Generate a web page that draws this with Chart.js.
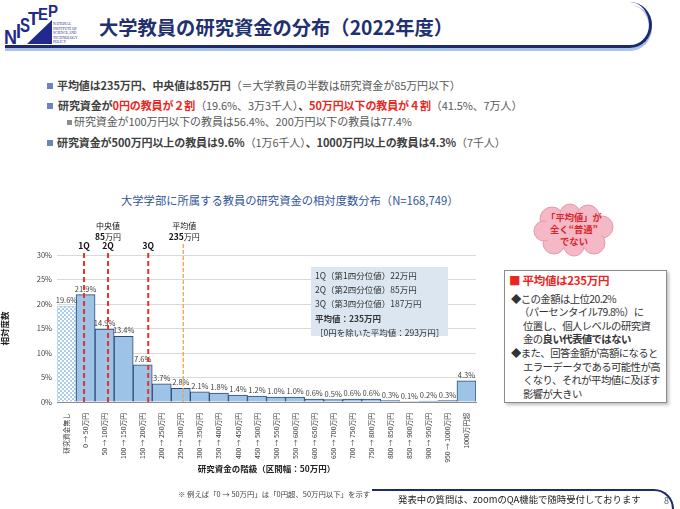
<!DOCTYPE html>
<html lang="ja">
<head>
    <meta charset="UTF-8">
    <title>大学教員の研究資金の分布（2022年度）</title>
    <script src="https://cdn.jsdelivr.net/npm/chart.js"></script>
    <style>
        html, body {
            margin: 0;
            padding: 0;
        }
        body {
            width: 680px;
            height: 509px;
            position: relative;
            overflow: hidden;
            background: #ffffff;
            font-family: "Noto Sans CJK JP", "Noto Sans", sans-serif;
            color: #595959;
        }
        .abs { position: absolute; white-space: nowrap; }
        .header-line, .header-shadow {
            position: absolute;
            left: 5px; top: 2px;
            width: 644px; height: 43px;
            border-bottom: 3px solid #1f2a6e;
            border-right: 3px solid #1f2a6e;
            border-radius: 0 22px 22px 0 / 0 23px 23px 0;
        }
        .header-shadow {
            top: 5px;
            left: 5px;
            border-color: #a9c3ea;
        }
        .title {
            left: 99px; top: 13px;
            font-size: 19.3px;
            font-weight: bold;
            color: #22306f;
        }
        .pt {
            font-size: 11px;
            letter-spacing: -0.1px;
        }
        .pt b { color: #404040; }
        .pt .red { color: #e8281e; font-weight: bold; }
        .sq {
            position: absolute;
            width: 6px; height: 6px;
            background: #6a86b8;
        }
        #chartWrap {
            position: absolute;
            left: 0; top: 190px;
            width: 490px; height: 300px;
        }
        .ctitle {
            left: 121px; top: 192px;
            font-size: 11.3px;
            color: #2f5597;
        }
        .qbox {
            position: absolute;
            left: 311px; top: 267px;
            width: 133px; height: 68px;
            background: #dce6f0;
            font-size: 8.5px;
            color: #333333;
            line-height: 14.2px;
            padding: 1px 0 0 4px;
            white-space: nowrap;
        }
        .note {
            left: 178px; top: 488px;
            font-size: 7.4px;
            color: #404040;
        }
        .panel {
            position: absolute;
            left: 504px; top: 270px;
            width: 161px; height: 131px;
            border: 1px solid #8c8c8c;
            box-shadow: 2px 2px 3px rgba(0,0,0,0.25);
            background: #ffffff;
            font-size: 10.4px;
            line-height: 13.6px;
            color: #333333;
            white-space: nowrap;
            letter-spacing: -0.6px;
        }
        .panel .head {
            color: #e8281e;
            font-weight: bold;
            font-size: 11.5px;
            letter-spacing: -0.3px;
            margin: 3px 0 4px 4px;
        }
        .footer-line {
            position: absolute;
            left: 372px; top: 489px;
            width: 300px; height: 40px;
            border-top: 2px solid #1f2a6e;
            border-right: 2px solid #1f2a6e;
            border-radius: 0 20px 0 0;
        }
    </style>
</head>
<body>
    <!-- header -->
    <svg class="abs" style="left:0;top:0" width="90" height="48" viewBox="0 0 90 48">
        <polygon points="27,44 52,44 52,20" fill="#1f2a8c"/>
        <g font-family="Liberation Sans" font-weight="bold" fill="#1f2a8c">
            <text x="4" y="44" font-size="21" textLength="13" lengthAdjust="spacingAndGlyphs">N</text>
            <text x="16" y="38" font-size="20" textLength="5" lengthAdjust="spacingAndGlyphs">I</text>
            <text x="20" y="32" font-size="20" textLength="10" lengthAdjust="spacingAndGlyphs">S</text>
            <text x="28" y="25" font-size="19" textLength="11" lengthAdjust="spacingAndGlyphs">T</text>
            <text x="38" y="20" font-size="17" textLength="10" lengthAdjust="spacingAndGlyphs">E</text>
            <text x="48" y="17" font-size="16" textLength="10" lengthAdjust="spacingAndGlyphs">P</text>
        </g>
        <g font-family="Liberation Serif" font-size="3.6" fill="#1f2a8c">
            <text x="53" y="25">NATIONAL</text>
            <text x="53" y="29.5">INSTITUTE OF</text>
            <text x="53" y="34">SCIENCE AND</text>
            <text x="53" y="38.5">TECHNOLOGY</text>
            <text x="53" y="43">POLICY</text>
        </g>
    </svg>
    <div class="header-shadow"></div>
    <div class="header-line"></div>
    <div class="abs title">大学教員の研究資金の分布（2022年度）</div>

    <!-- bullet points -->
    <div class="sq" style="left:47px;top:83px"></div>
    <div class="abs pt" style="left:57px;top:77px"><b>平均値は235万円、中央値は85万円</b>（＝大学教員の半数は研究資金が85万円以下）</div>
    <div class="sq" style="left:47px;top:103px"></div>
    <div class="abs pt" style="left:58px;top:97px"><b>研究資金が</b><span class="red">0円の教員が２割</span>（19.6%、3万3千人）<b>、</b><span class="red">50万円以下の教員が４割</span>（41.5%、7万人）</div>
    <div class="sq" style="left:67px;top:120px;width:5px;height:5px;background:#8c8c8c"></div>
    <div class="abs pt" style="left:74px;top:113px">研究資金が100万円以下の教員は56.4%、200万円以下の教員は77.4%</div>
    <div class="sq" style="left:47px;top:140px"></div>
    <div class="abs pt" style="left:57px;top:134px"><b>研究資金が500万円以上の教員は9.6%</b>（1万6千人）<b>、1000万円以上の教員は4.3%</b>（7千人）</div>

    <!-- chart -->
    <div class="abs ctitle">大学学部に所属する教員の研究資金の相対度数分布（N=168,749）</div>
    <div id="chartWrap"><canvas id="fundChart"></canvas></div>
    <div class="qbox">
        1Q（第1四分位値）22万円<br>
        2Q（第2四分位値）85万円<br>
        3Q（第3四分位値）187万円<br>
        <b>平均値：235万円</b><br>
        ［0円を除いた平均値：293万円］
    </div>
    <div class="abs note">※ 例えば「0 → 50万円」は「0円超、50万円以下」を示す</div>

    <!-- right side -->
    <svg class="abs" style="left:532px;top:203px" width="84" height="54" viewBox="0 0 84 54">
        <g fill="#f5b8c6" stroke="#e79aac" stroke-width="1">
            <circle cx="20" cy="16" r="12"/>
            <circle cx="38" cy="11" r="10"/>
            <circle cx="56" cy="13" r="11"/>
            <circle cx="70" cy="24" r="11"/>
            <circle cx="62" cy="40" r="11"/>
            <circle cx="42" cy="43" r="10"/>
            <circle cx="22" cy="40" r="11"/>
            <circle cx="12" cy="28" r="10"/>
        </g>
        <ellipse cx="41" cy="27" rx="30" ry="18" fill="#f5b8c6"/>
        <g font-family="Noto Sans CJK JP" font-weight="bold" font-size="9.3" fill="#d8262b" text-anchor="middle">
            <text x="42" y="18">「平均値」が</text>
            <text x="42" y="30">全く“普通”</text>
            <text x="42" y="42">でない</text>
        </g>
    </svg>
    <div class="panel">
        <div class="head">■ 平均値は235万円</div>
        <div style="padding-left:6px">◆この金額は上位20.2%</div>
        <div style="padding-left:14px">（パーセンタイル79.8%）に</div>
        <div style="padding-left:18px">位置し、個人レベルの研究資</div>
        <div style="padding-left:18px">金の<b>良い代表値ではない</b></div>
        <div style="padding-left:6px">◆また、回答金額が高額になると</div>
        <div style="padding-left:18px">エラーデータである可能性が高</div>
        <div style="padding-left:18px">くなり、それが平均値に及ぼす</div>
        <div style="padding-left:18px">影響が大きい</div>
    </div>

    <!-- footer -->
    <div class="footer-line"></div>
    <div class="abs" style="left:398px;top:492px;font-size:9.4px;color:#222">発表中の質問は、zoomのQA機能で随時受付しております</div>
    <div class="abs" style="left:664px;top:494px;font-size:9px;color:#595959">8</div>

    <script>
        // data
        const categories = ['研究資金無し', '0 → 50万円', '50 → 100万円', '100 → 150万円', '150 → 200万円',
            '200 → 250万円', '250 → 300万円', '300 → 350万円', '350 → 400万円', '400 → 450万円',
            '450 → 500万円', '500 → 550万円', '550 → 600万円', '600 → 650万円', '650 → 700万円',
            '700 → 750万円', '750 → 800万円', '800 → 850万円', '850 → 900万円', '900 → 950万円',
            '950 → 1000万円', '1000万円超'];
        const shares = [19.6, 21.9, 14.9, 13.4, 7.6, 3.7, 2.8, 2.1, 1.8, 1.4, 1.2,
            1.0, 1.0, 0.6, 0.5, 0.6, 0.6, 0.3, 0.1, 0.2, 0.3, 4.3];
        const yTicks = [0, 5, 10, 15, 20, 25, 30];
        // reference lines: name, amount (万円) and where they sit on the category axis as drawn
        const markerNames = ['1Q', '2Q', '3Q', '平均値'];
        const markerAmounts = [22, 85, 187, 235];
        const markerAxisPos = [0.92, 2.18, 4.29, 6.13];

        const canvas = document.getElementById('fundChart');
        const ctx = canvas.getContext('2d');

        // dotted fill for the "no funding" bar
        const tile = document.createElement('canvas');
        tile.width = 4;
        tile.height = 4;
        const t = tile.getContext('2d');
        t.fillStyle = '#ffffff';
        t.fillRect(0, 0, 4, 4);
        t.fillStyle = '#a9cdea';
        t.fillRect(0, 0, 2, 2);
        t.fillRect(2, 2, 2, 2);
        const dots = ctx.createPattern(tile, 'repeat');

        const fills = shares.map((v, i) => i === 0 ? dots : '#9dc3e6');
        const borders = shares.map((v, i) => i === 0 ? '#b4d2ec' : '#2e4a78');

        const annotations = {
            id: 'annotations',
            afterDatasetsDraw(chart) {
                const c = chart.ctx;
                const x = chart.scales.x;
                const y = chart.scales.y;
                const meta = chart.getDatasetMeta(0);

                // value labels
                c.save();
                c.font = '7.5px "Noto Sans CJK JP"';
                c.fillStyle = '#404040';
                c.textAlign = 'center';
                c.textBaseline = 'bottom';
                meta.data.forEach((bar, i) => {
                    c.fillText(shares[i].toFixed(1) + '%', bar.x, bar.y - 2);
                });

                // quartile / mean lines
                markerAxisPos.forEach((pos, i) => {
                    const px = x.getPixelForValue(pos);
                    const isMean = markerNames[i] === '平均値';
                    c.beginPath();
                    c.setLineDash(isMean ? [4, 2] : [5, 3]);
                    c.lineWidth = isMean ? 1.3 : 2;
                    c.strokeStyle = isMean ? '#f2a154' : '#e2342b';
                    c.moveTo(px, isMean ? y.top - 11 : y.top - 2);
                    c.lineTo(px, y.bottom);
                    c.stroke();
                });
                c.setLineDash([]);

                c.fillStyle = '#111111';
                c.textBaseline = 'middle';
                markerAxisPos.forEach((pos, i) => {
                    const px = x.getPixelForValue(pos);
                    if (markerNames[i] !== '平均値') {
                        c.font = 'bold 8.5px "Noto Sans CJK JP"';
                        c.fillText(markerNames[i], px, y.top - 9);
                    }
                });

                // median and mean captions
                const caption = (px, head, amount) => {
                    c.font = '8px "Noto Sans CJK JP"';
                    c.fillText(head, px, y.top - 29);
                    const num = String(amount);
                    c.font = 'bold 8.5px "Noto Sans CJK JP"';
                    const w1 = c.measureText(num).width;
                    c.font = '8px "Noto Sans CJK JP"';
                    const w2 = c.measureText('万円').width;
                    const start = px - (w1 + w2) / 2;
                    c.textAlign = 'left';
                    c.font = 'bold 8.5px "Noto Sans CJK JP"';
                    c.fillText(num, start, y.top - 18);
                    c.font = '8px "Noto Sans CJK JP"';
                    c.fillText('万円', start + w1, y.top - 18);
                    c.textAlign = 'center';
                };
                caption(x.getPixelForValue(markerAxisPos[1]), '中央値', markerAmounts[1]);
                caption(x.getPixelForValue(markerAxisPos[3]) + 1, '平均値', markerAmounts[3]);
                c.restore();
            }
        };

        new Chart(ctx, {
            type: 'bar',
            data: {
                labels: categories,
                datasets: [{
                    data: shares,
                    backgroundColor: fills,
                    borderColor: borders,
                    borderWidth: 1,
                    categoryPercentage: 1,
                    barPercentage: 1
                }]
            },
            options: {
                responsive: true,
                maintainAspectRatio: false,
                animation: false,
                layout: { padding: { top: 65, right: 14, left: 0, bottom: 0 } },
                plugins: {
                    legend: { display: false },
                    tooltip: { enabled: false }
                },
                scales: {
                    x: {
                        grid: { display: false },
                        border: { color: '#8c8c8c' },
                        ticks: {
                            minRotation: 90,
                            maxRotation: 90,
                            autoSkip: false,
                            padding: 3,
                            color: '#404040',
                            font: { size: 6.8, family: '"Noto Sans CJK JP"' }
                        },
                        title: {
                            display: true,
                            text: '研究資金の階級（区間幅：50万円）',
                            color: '#222222',
                            font: { size: 8.5, weight: 'bold', family: '"Noto Sans CJK JP"' },
                            padding: { top: 0, bottom: 16 }
                        },
                        afterFit(scale) { scale.height = 88; }
                    },
                    y: {
                        min: 0,
                        max: 30,
                        afterBuildTicks(scale) { scale.ticks = yTicks.map(v => ({ value: v })); },
                        grid: { color: '#d9d9d9', drawTicks: false },
                        border: { display: false },
                        ticks: {
                            padding: 5,
                            color: '#404040',
                            font: { size: 7.5, family: '"Noto Sans CJK JP"' },
                            callback: v => v + '%'
                        },
                        title: {
                            display: true,
                            text: '相対度数',
                            color: '#222222',
                            font: { size: 8.5, weight: 'bold', family: '"Noto Sans CJK JP"' },
                            padding: { top: 0, bottom: 9 }
                        },
                        afterFit(scale) { scale.width = 57; }
                    }
                }
            },
            plugins: [annotations]
        });
    </script>
</body>
</html>
